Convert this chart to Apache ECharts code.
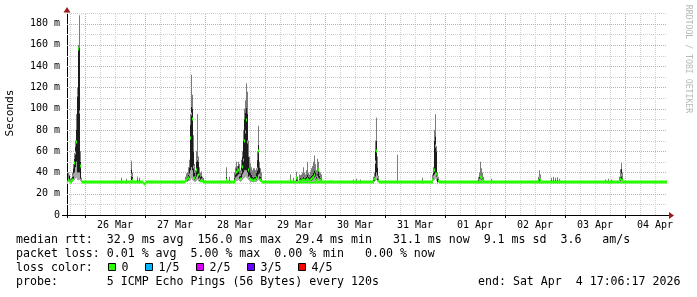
<!DOCTYPE html>
<html><head><meta charset="utf-8">
<script src="https://cdn.jsdelivr.net/npm/echarts@6/dist/echarts.min.js"></script>
<style>html,body{margin:0;padding:0;background:#fff}#c{width:697px;height:297px}</style>
</head><body><div id="c"></div>
<script>
// ---- data (x in hours since 26 Mar 00:00, y in ms) ----
const xLabels = ['26 Mar','27 Mar','28 Mar','29 Mar','30 Mar','31 Mar','01 Apr','02 Apr','03 Apr','04 Apr'];
const xLabelHours = [12, 36, 60, 84, 108, 132, 156, 180, 204, 228];
const yTicks = [0, 20, 40, 60, 80, 100, 120, 140, 160, 180];

// baseline median runs: [startHour, endHour, medianMs]
const baselineRuns = [
  [-7.2, -6.8, 31.5],
  [-1.2, 23.2, 31.5],
  [24.4, 40.0, 31.5],
  [47.6, 60.0, 31.5],
  [70.8, 115.6, 31.5],
  [117.6, 139.2, 31.5],
  [141.6, 232.8, 31.5]
];

// ping columns: [hour, minPing, p2, p4, maxPing, median]
const pingsMar25 = [
  [-6.8, 31, 32, 34, 40, 32.5], [-6.4, 31, 31.5, 37, 38, 32], [-6.0, 31, 31, 32, 34, 31.5],
  [-5.6, 31, 31, 32, 35, 31.5], [-5.2, 31, 32, 36, 40, 33], [-4.8, 32, 34, 44, 48, 38],
  [-4.4, 33, 40, 53, 58, 49], [-4.0, 34, 45, 64, 70, 58], [-3.6, 35, 50, 80, 95, 69],
  [-3.2, 33, 40, 115, 120, 113], [-2.8, 33, 40, 157, 160, 156], [-2.4, 33, 40, 157, 188, 97],
  [-2.0, 32, 34, 50, 60, 46], [-1.6, 31, 31, 33, 35, 32]
];
const pingsMar26 = [
  [14.4, 31, 31, 32, 35, 31.5], [16.4, 31, 31, 32, 34, 31.5], [18.4, 31, 33, 43, 51, 38],
  [18.8, 31, 32, 36, 40, 33], [20.8, 31, 31, 33, 36, 31.5], [21.6, 31, 31, 33, 35, 31.5],
  [23.2, 30, 30, 30.5, 31, 30.5], [23.6, 29, 29, 29.5, 30, 29.5], [24.0, 30, 30, 30.5, 31, 30.5]
];
const pingsMar27 = [
  [40.0, 31, 31.5, 33, 36, 32], [40.4, 31, 32, 34, 39, 33], [40.8, 31, 32, 36, 40, 33.5],
  [41.2, 32, 33, 38, 45, 35], [41.6, 32, 35, 45, 52, 37.5], [42.0, 33, 42, 85, 95, 72],
  [42.4, 34, 45, 102, 132, 94.7], [42.8, 33, 42, 100, 113, 90], [43.2, 32, 36, 60, 75, 45],
  [43.6, 31, 33, 40, 48, 35], [44.0, 31, 32, 36, 42, 33], [44.4, 32, 36, 50, 60, 42],
  [44.8, 33, 38, 55, 95, 52.5], [45.2, 32, 34, 50, 55, 37.5], [45.6, 31, 32, 38, 45, 33.7],
  [46.0, 31, 32, 36, 40, 32], [46.4, 31, 32, 37, 41, 33], [46.8, 31, 31.5, 33, 36, 32],
  [47.2, 31, 31, 32, 35, 31.5]
];
const pingsMar28 = [
  [56.4, 31, 32, 36, 45, 33], [57.6, 31, 31, 32, 36, 31.5], [59.6, 31, 32, 35, 40, 32],
  [60.0, 31, 33, 38, 45, 34], [60.4, 32, 36, 44, 50, 40], [60.8, 32, 35, 40, 46, 36],
  [61.2, 33, 38, 46, 50, 42], [61.6, 32, 34, 40, 48, 37.5], [62.0, 31, 33, 37, 42, 34],
  [62.4, 32, 35, 45, 52, 40], [62.8, 33, 38, 55, 60, 45], [63.2, 34, 40, 70, 80, 51.6],
  [63.6, 35, 42, 90, 100, 70], [64.0, 36, 42, 96, 108, 78], [64.4, 35, 42, 101, 124, 89],
  [64.8, 34, 40, 95, 116, 68.7], [65.2, 33, 36, 55, 70, 42], [65.6, 32, 34, 44, 55, 36],
  [66.0, 31, 33, 40, 48.7, 34], [66.4, 31, 32, 38, 45, 33], [66.8, 31, 32, 36, 42, 32.5],
  [67.2, 31, 32, 35, 44, 32], [67.6, 31, 32, 36, 44, 32.5], [68.0, 31, 32, 36, 42, 33],
  [68.4, 31, 33, 40, 44, 35], [68.8, 32, 35, 52, 60, 43.7], [69.2, 33, 38, 66, 84, 60],
  [69.6, 32, 34, 45, 50, 38], [70.0, 31, 32, 36, 44, 33], [70.4, 31, 31.5, 34, 40, 32]
];
const pingsMar29 = [
  [82.0, 31, 31, 33, 38, 32], [83.2, 31, 31, 32, 35, 31.5], [84.4, 31, 32, 36, 40.6, 34.4],
  [84.8, 31, 31, 33, 36, 31.5], [85.6, 31, 32, 34, 38, 32], [86.0, 31, 32, 35, 37.5, 32],
  [86.4, 31, 32, 34, 38, 32], [86.8, 31, 32, 35, 40, 32.5], [87.2, 31, 32, 36, 45, 33],
  [87.6, 31, 32, 35, 40, 32.5], [88.0, 31, 32, 35, 38, 32], [88.4, 31, 32, 36, 42, 33],
  [88.8, 32, 33, 38, 50, 34], [89.2, 31, 32, 36, 40, 33], [89.6, 31, 32, 35, 38, 32],
  [90.0, 31, 32, 36, 41, 33], [90.4, 31, 32, 37, 44, 34], [90.8, 31, 33, 38, 46, 35],
  [91.2, 32, 34, 40, 50, 36], [91.6, 32, 35, 42, 56, 38], [92.0, 31, 33, 40, 48, 34.4],
  [92.4, 31, 32, 36, 42, 33], [92.8, 32, 34, 39, 53, 36], [93.2, 32, 35, 42, 50, 42],
  [93.6, 31, 33, 37, 41, 33], [94.0, 31, 32, 35, 40, 32.5], [94.4, 31, 32, 34, 38, 32]
];
const pingsMar30 = [
  [107.2, 31, 31, 32, 33.5, 31.5], [108.4, 31, 31, 32, 34, 31.5], [110.0, 31, 31, 32, 33.5, 31.5],
  [115.2, 31, 31, 33, 36, 31.5], [115.6, 31, 32, 36, 40, 34], [116.0, 32, 36, 60, 70, 50],
  [116.4, 33, 40, 70, 91.5, 60], [116.8, 31, 33, 45, 55, 36], [117.2, 31, 32, 34, 37, 32],
  [124.8, 31, 31, 31.5, 56.6, 31.5], [134.8, 31, 31, 32, 35, 31.5]
];
const pingsMar31 = [
  [138.8, 31, 32, 34, 38, 33], [139.2, 32, 34, 40, 45, 36], [139.6, 33, 38, 70, 80, 42],
  [140.0, 34, 40, 74, 94.7, 65], [140.4, 32, 36, 60, 65, 39], [140.8, 29, 31, 36, 40, 36],
  [141.2, 31, 32, 34, 36, 32]
];
const pingsApr = [
  [157.2, 31, 31, 33, 36, 31.5], [157.6, 31, 32, 36, 40, 33], [158.0, 32, 34, 37, 50, 36],
  [158.4, 31, 33, 36, 44, 35], [158.8, 31, 32, 35, 40, 33], [159.2, 31, 31, 33, 36, 32],
  [162.4, 31, 31, 32, 34, 31.5],
  [181.2, 31, 31, 33, 36, 32], [181.6, 31, 32, 35, 42, 34.5], [182.0, 31, 32, 34, 38, 33],
  [186.4, 31, 31, 33, 35, 31.5], [187.2, 31, 31, 33, 36, 31.5], [188.0, 31, 31, 33, 35, 31.5],
  [188.8, 31, 31, 33, 35.5, 31.5], [189.6, 31, 31, 32, 34, 31.5],
  [208.0, 31, 31, 32, 33.5, 31.5], [209.2, 31, 31, 32, 34, 31.5], [210.4, 31, 31, 32, 33.5, 31.5],
  [213.6, 31, 31, 33, 36, 32], [214.0, 31, 32, 36, 43, 34], [214.4, 32, 34, 43.7, 49, 37.5],
  [214.8, 31, 32, 35, 40, 33]
];

const legendRtt = 'median rtt:  32.9 ms avg  156.0 ms max  29.4 ms min   31.1 ms now  9.1 ms sd  3.6   am/s';
const legendLoss = 'packet loss: 0.01 % avg  5.00 % max  0.00 % min   0.00 % now';
const lossLabels = ['0', '1/5', '2/5', '3/5', '4/5'];
const lossColors = ['#26ff00', '#00b8ff', '#dd00ff', '#6a00ff', '#ff0000'];
const probeText = 'probe:       5 ICMP Echo Pings (56 Bytes) every 120s';
const endText = 'end: Sat Apr  4 17:06:17 2026';

// ---- chart ----
const xMin = -7.2, xMax = 232.8, yMax = 190, STEP = 0.4;
const MONO = 'DejaVu Sans Mono';
const GREEN = lossColors[0], DARK = '#1c1c1c', LOWC = '#a8a8a8', UPC = '#7c7c7c';
const allPings = [].concat(pingsMar25, pingsMar26, pingsMar27, pingsMar28, pingsMar29, pingsMar30, pingsMar31, pingsApr);

const vGrid = []; for (let h = -6; h <= 228; h += 6) vGrid.push([h, h % 24 === 0 ? 1 : 0]);
const hGrid = []; for (let v = 10; v <= 190; v += 10) hGrid.push([0, v, v % 20 === 0 ? 1 : 0]);
const tickHours = [xMin]; for (let h = 0; h <= 216; h += 24) tickHours.push(h);

const MAJ = '#f09c9c', MIN = '#d0d0d0';

const chart = echarts.init(document.getElementById('c'), null, {renderer: 'canvas'});
chart.setOption({
  animation: false,
  backgroundColor: '#fff',
  grid: {left: 67, top: 13, width: 600, height: 202, outerBoundsMode: 'none'},
  xAxis: {
    type: 'value', min: xMin, max: xMax,
    splitLine: {show: false},
    axisLine: {show: true, onZero: false, lineStyle: {color: '#000', width: 1}},
    axisTick: {show: true, customValues: tickHours, length: 3, lineStyle: {color: '#000'}},
    axisLabel: {customValues: xLabelHours, formatter: v => xLabels[xLabelHours.indexOf(v)] || '',
      fontFamily: MONO, fontSize: 10, color: '#000', margin: 5}
  },
  yAxis: {
    type: 'value', min: 0, max: yMax,
    splitLine: {show: false},
    axisLine: {show: true, onZero: false, lineStyle: {color: '#000', width: 1}},
    axisTick: {show: true, customValues: [0], length: 5, lineStyle: {color: '#000'}},
    axisLabel: {customValues: yTicks, formatter: v => v === 0 ? '0' : v + ' m',
      fontFamily: MONO, fontSize: 10, color: '#000', margin: 7}
  },
  series: [
    {type: 'custom', z: 1, silent: true, data: vGrid, renderItem: (p, api) => {
      const h = api.value(0), a = api.coord([h, 0]), b = api.coord([h, yMax]);
      const x = Math.round(a[0]) + 0.5;
      return {type: 'line', shape: {x1: x, y1: a[1], x2: x, y2: b[1]},
        style: {stroke: api.value(1) ? MAJ : MIN, lineWidth: 1, lineDash: [1, 1]}};
    }},
    {type: 'custom', z: 1, silent: true, data: hGrid, renderItem: (p, api) => {
      const v = api.value(1), a = api.coord([xMin, v]), b = api.coord([xMax, v]);
      const y = Math.round(a[1]) + 0.5;
      return {type: 'line', shape: {x1: a[0], y1: y, x2: b[0], y2: y},
        style: {stroke: api.value(2) ? MAJ : MIN, lineWidth: 1, lineDash: [1, 1]}};
    }},
    {type: 'custom', z: 3, silent: true, data: baselineRuns, encode: {x: [0, 1], y: 2}, renderItem: (p, api) => {
      const a = api.coord([api.value(0), api.value(2)]), b = api.coord([api.value(1), api.value(2)]);
      return {type: 'rect', shape: {x: a[0], y: Math.round(a[1]) - 1.5, width: b[0] - a[0], height: 3}, style: {fill: GREEN}};
    }},
    {type: 'custom', z: 4, silent: true, data: allPings, renderItem: (p, api) => {
      const h = api.value(0);
      const xa = api.coord([h, 0])[0], xb = api.coord([h + STEP, 0])[0], w = xb - xa;
      const Y = v => api.coord([h, v])[1];
      const band = (lo, hi, c) => ({type: 'rect', shape: {x: xa, y: Y(hi), width: w, height: Math.max(0, Y(lo) - Y(hi))}, style: {fill: c}});
      const med = api.value(5);
      return {type: 'group', children: [
        band(api.value(1), api.value(2), LOWC),
        band(api.value(2), api.value(3), DARK),
        band(api.value(3), api.value(4), UPC),
        {type: 'rect', shape: {x: xa, y: Math.round(Y(med)) - 1.5, width: w, height: 3}, style: {fill: GREEN}}
      ]};
    }}
  ]
});

// ---- decorations / legend text ----
const pBR = chart.convertToPixel({gridIndex: 0}, [xMax, 0]);
const pTL = chart.convertToPixel({gridIndex: 0}, [xMin, yMax]);
const ARROW = '#9b1c1c';
const g = [];
g.push({type: 'line', shape: {x1: pBR[0], y1: Math.round(pBR[1]) + 0.5, x2: pBR[0] + 3, y2: Math.round(pBR[1]) + 0.5}, style: {stroke: '#000', lineWidth: 1}, z: 10});
g.push({type: 'polygon', shape: {points: [[pBR[0] + 2, pBR[1] - 3], [pBR[0] + 2, pBR[1] + 4], [pBR[0] + 7, pBR[1] + 0.5]]}, style: {fill: ARROW}, z: 10});
g.push({type: 'polygon', shape: {points: [[pTL[0] - 3.5, pTL[1] - 0.5], [pTL[0] + 3.5, pTL[1] - 0.5], [pTL[0], pTL[1] - 6]]}, style: {fill: ARROW}, z: 10});
g.push({type: 'text', x: 10, y: 113, rotation: Math.PI / 2, style: {text: 'Seconds', fontFamily: MONO, fontSize: 11.2, fill: '#000', align: 'center', verticalAlign: 'middle'}});
g.push({type: 'text', x: 688, y: 59, rotation: -Math.PI / 2, style: {text: 'RRDTOOL / TOBI OETIKER', fontFamily: MONO, fontSize: 8.2, fill: '#b8b8b8', align: 'center', verticalAlign: 'middle'}});
const LX = 16, LF = 11.6, ADV = 7;
const lineY = [240, 254, 268, 282];
const txt = (s, x, y, align) => ({type: 'text', x: x, y: y, style: {text: s, fontFamily: MONO, fontSize: LF, fill: '#000', align: align || 'left', verticalAlign: 'middle'}});
g.push(txt(legendRtt, LX, lineY[0]));
g.push(txt(legendLoss, LX, lineY[1]));
g.push(txt('loss color:', LX, lineY[2]));
let bx = LX + 13 * ADV - 0.5 + 1;
lossLabels.forEach((lab, i) => {
  g.push({type: 'rect', shape: {x: Math.round(bx) + 0.5, y: lineY[2] - 4.5, width: 7, height: 7}, style: {fill: lossColors[i], stroke: '#000', lineWidth: 1}});
  g.push(txt(lab, bx + 14, lineY[2]));
  bx = bx + 14 + (lab.length + 2) * ADV + 2;
});
g.push(txt(probeText, LX, lineY[3]));
g.push(txt(endText, LX + 66 * ADV, lineY[3]));
chart.setOption({graphic: g});
</script>
</body></html>
